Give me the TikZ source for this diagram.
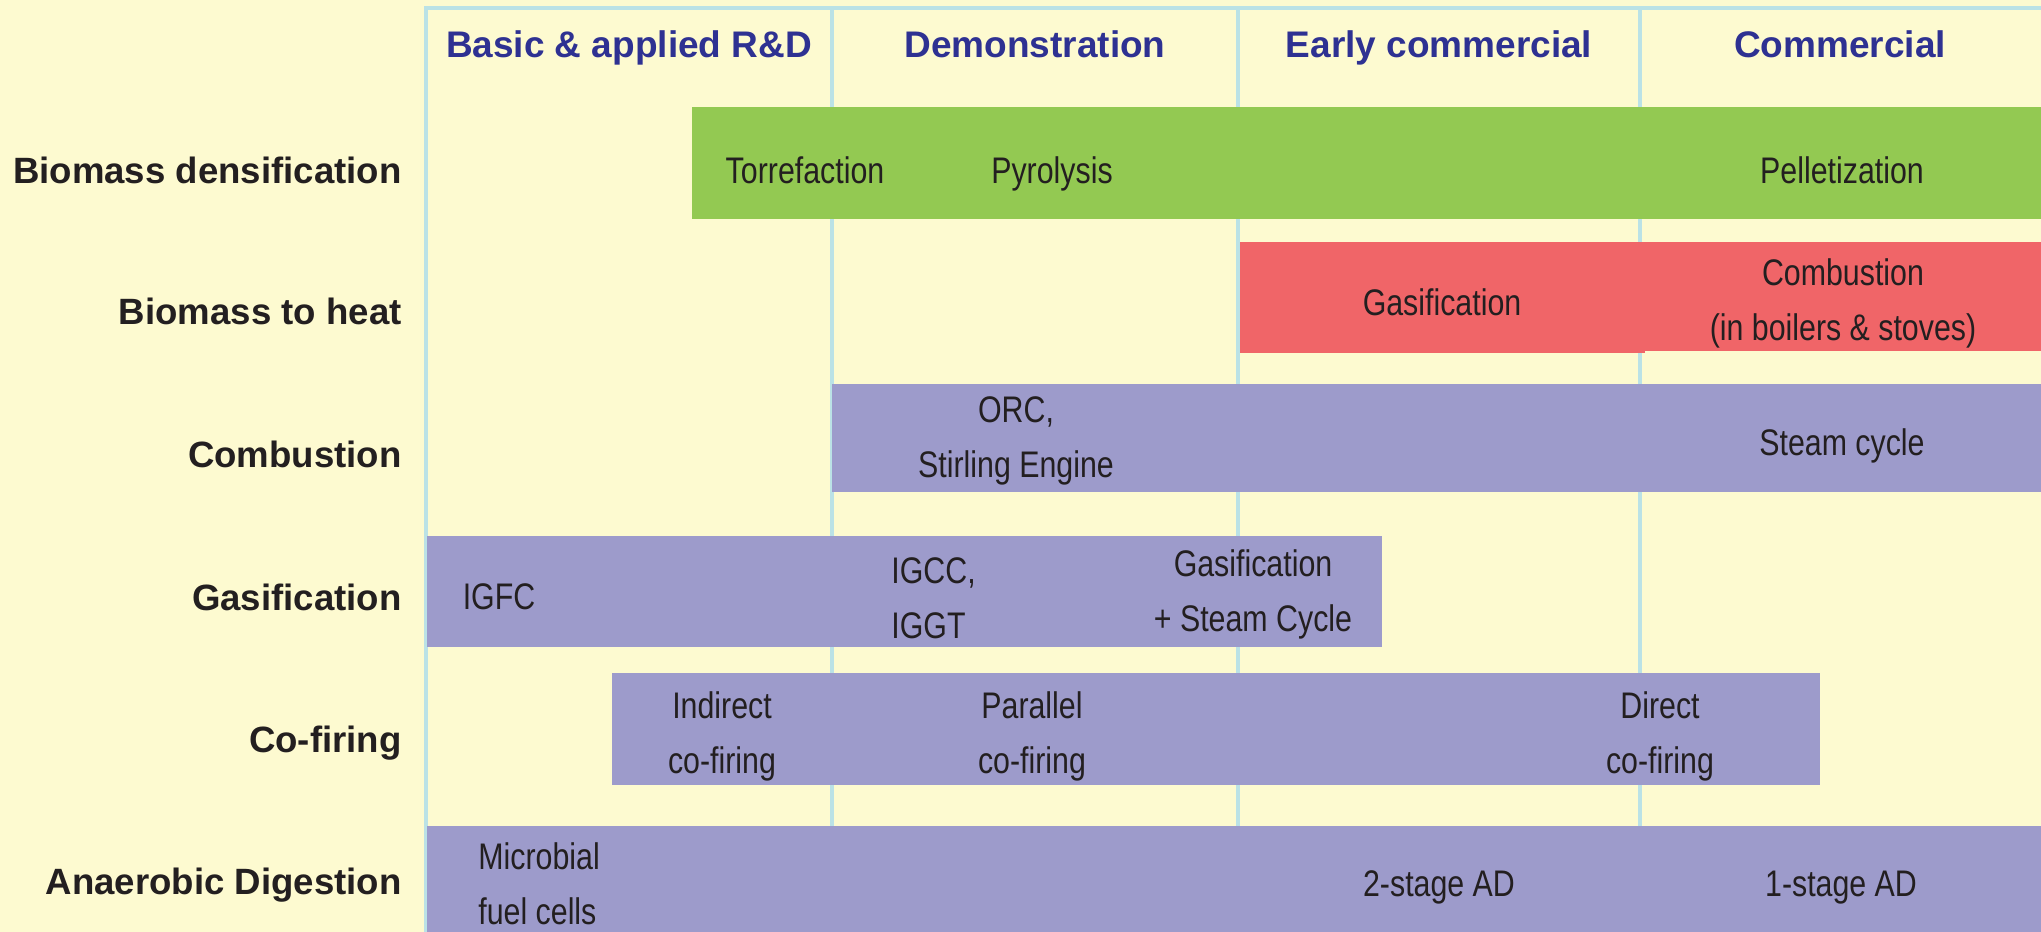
\documentclass[tikz,border=0pt]{standalone}
\usepackage{fontspec}
\setmainfont{Liberation Sans}
\newfontfamily\narrowfont[FakeStretch=0.82]{Liberation Sans}
\usetikzlibrary{positioning}
\definecolor{bgcream}{RGB}{253,250,208}
\definecolor{gridblue}{RGB}{187,226,230}
\definecolor{headblue}{RGB}{46,49,146}
\definecolor{txtdark}{RGB}{35,31,32}
\definecolor{barGreen}{RGB}{147,201,82}
\definecolor{barRed}{RGB}{240,101,104}
\definecolor{barPurple}{RGB}{157,155,203}

\begin{document}
\begin{tikzpicture}[x=0.5pt, y=-0.5pt,
    head/.style={font=\fontsize{18.5}{27.5}\selectfont\bfseries, text=headblue, inner sep=0pt, anchor=base},
    rowlab/.style={font=\fontsize{18.3}{27.5}\selectfont\bfseries, text=txtdark, inner sep=0pt, anchor=base east},
    bartext/.style={font=\narrowfont\fontsize{18.5}{27.5}\selectfont, text=txtdark, inner sep=0pt, align=center, anchor=base},
    gridline/.style={draw=gridblue, line width=2.25pt}]

    \useasboundingbox (0,0) rectangle (2041,932);
    \fill[bgcream] (0,0) rectangle (2041,932);

    % stage grid
    \draw[gridline] (426,932) -- (426,8) -- (2041,8);
    \foreach \xs in {832,1238,1640}
        \draw[gridline] (\xs,8) -- (\xs,932);

    % bars
    \fill[barGreen] (692,107) rectangle (2041,219);
    \fill[barRed] (1240,242) rectangle (1645,353);
    \fill[barRed] (1645,242) rectangle (2041,351);
    \fill[barPurple] (832,384) rectangle (2041,492);
    \fill[barPurple] (427,536) rectangle (1382,647);
    \fill[barPurple] (612,673) rectangle (1820,785);
    \fill[barPurple] (427,826) rectangle (2041,932);

    \node[head] (rnd) at (629,57) {Basic \& applied R\&D};
    \node[head] (demo) at (1035,57) {Demonstration};
    \node[head] (early) at (1439,57) {Early commercial};
    \node[head] (comm) at (1840,57) {Commercial};

    \node[rowlab] (densif) at (402,183) {Biomass densification};
    \node[rowlab] (heat) at (402,324) {Biomass to heat};
    \node[rowlab] (combust) at (402,467) {Combustion};
    \node[rowlab] (gasif) at (402,610) {Gasification};
    \node[rowlab] (cofire) at (402,752) {Co-firing};
    \node[rowlab] (anaer) at (402,894) {Anaerobic Digestion};

    % multi-line labels sit on the baseline of their last line
    \node[bartext] (torref) at (805,183) {Torrefaction};
    \node[bartext] (pyrol) at (1052,183) {Pyrolysis};
    \node[bartext] (pellet) at (1842,183) {Pelletization};
    \node[bartext] (heatgas) at (1442,315) {Gasification};
    \node[bartext] (heatcomb) at (1843,340) {Combustion\\(in boilers \& stoves)};
    \node[bartext] (orc) at (1016,477) {ORC,\\Stirling Engine};
    \node[bartext] (steam) at (1842,455) {Steam cycle};
    \node[bartext] (igfc) at (499,609) {IGFC};
    \node[bartext, align=left, anchor=base west] (igcc) at (891,638) {IGCC,\\IGGT};
    \node[bartext] (gassteam) at (1253,631) {Gasification\\+ Steam Cycle};
    \node[bartext] (indirect) at (722,773) {Indirect\\co-firing};
    \node[bartext] (parallel) at (1032,773) {Parallel\\co-firing};
    \node[bartext] (direct) at (1660,773) {Direct\\co-firing};
    \node[bartext, align=left, anchor=base west] (mfc) at (478,924) {Microbial\\fuel cells};
    \node[bartext] (twostage) at (1439,896) {2-stage AD};
    \node[bartext] (onestage) at (1841,896) {1-stage AD};
\end{tikzpicture}
\end{document}
